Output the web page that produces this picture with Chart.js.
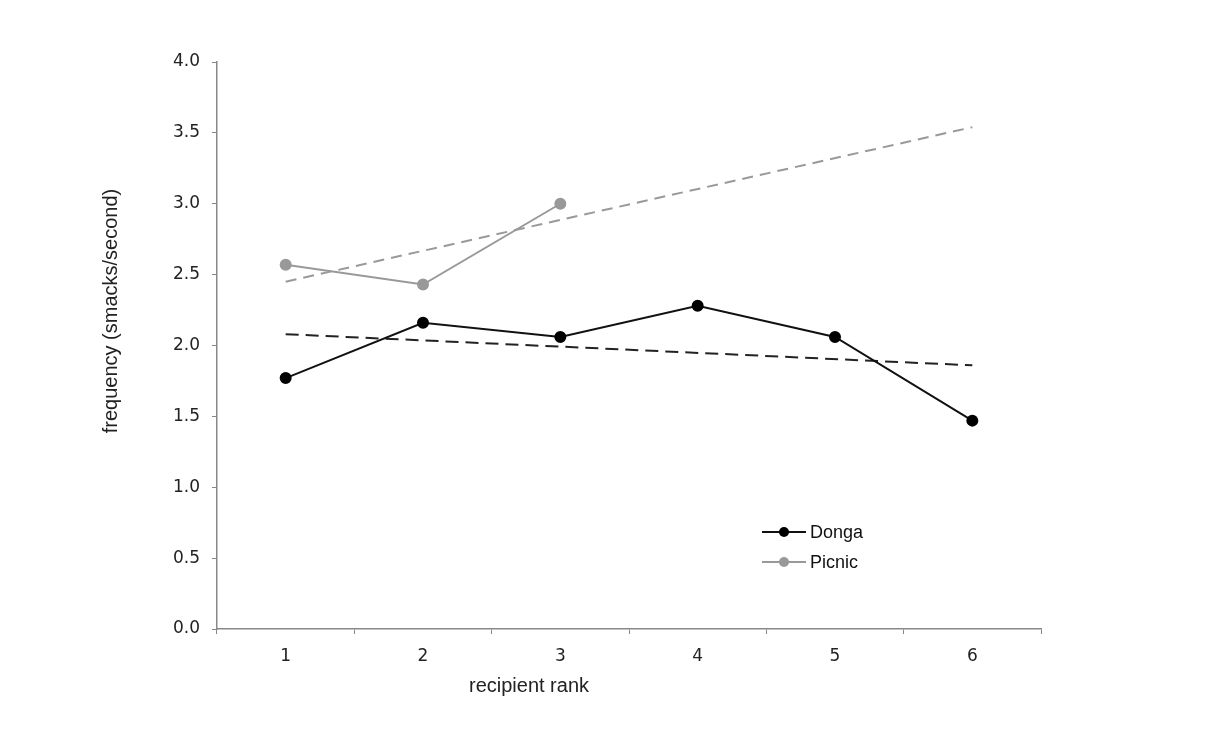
<!DOCTYPE html>
<html>
<head>
<meta charset="utf-8">
<script src="https://cdn.jsdelivr.net/npm/chart.js@4.4.0/dist/chart.umd.min.js"></script>
<style>
  html, body { margin: 0; padding: 0; background: #fff; }
  #wrap { width: 1213px; height: 740px; }
</style>
</head>
<body>
<div id="wrap"><canvas id="chart" width="1213" height="740"></canvas></div>
<script>
const ranks = ['1', '2', '3', '4', '5', '6'];
const donga = [1.77, 2.16, 2.06, 2.28, 2.06, 1.47];
const picnic = [2.57, 2.43, 3.0, null, null, null];
const dongaTrend = [2.08, null, null, null, null, 1.86];
const picnicTrend = [2.45, null, null, null, null, 3.54];
const yTicks = [0, 0.5, 1.0, 1.5, 2.0, 2.5, 3.0, 3.5, 4.0];

const ctx = document.getElementById('chart');

// legend drawn inside the plot area + axis titles
const overlay = {
  id: 'overlay',
  afterDraw(chart) {
    const c = chart.ctx;
    const area = chart.chartArea;
    c.save();
    c.fillStyle = '#222';
    c.font = '20px "Liberation Sans", Arial, sans-serif';
    c.textAlign = 'center';
    c.textBaseline = 'middle';
    c.fillText('recipient rank', 529, 686);
    c.translate(111, 311);
    c.rotate(-Math.PI / 2);
    c.fillText('frequency (smacks/second)', 0, 0);
    c.restore();

    const items = [chart.data.datasets[0], chart.data.datasets[1]];
    c.save();
    items.forEach((ds, i) => {
      const y = 532 + i * 30;
      c.strokeStyle = ds.borderColor;
      c.lineWidth = ds.borderWidth;
      c.beginPath();
      c.moveTo(762, y);
      c.lineTo(806, y);
      c.stroke();
      c.fillStyle = ds.pointBackgroundColor;
      c.beginPath();
      c.arc(784, y, 5, 0, Math.PI * 2);
      c.fill();
      c.fillStyle = '#111';
      c.font = '18px "Liberation Sans", Arial, sans-serif';
      c.textAlign = 'left';
      c.textBaseline = 'middle';
      c.fillText(ds.label, 810, y + 1);
    });
    c.restore();
  }
};

new Chart(ctx, {
  type: 'line',
  data: {
    labels: ranks,
    datasets: [
      {
        label: 'Donga',
        data: donga,
        borderColor: '#111',
        borderWidth: 2,
        pointBackgroundColor: '#000',
        pointBorderColor: '#000',
        pointRadius: 5,
        tension: 0,
      },
      {
        label: 'Picnic',
        data: picnic,
        borderColor: '#999',
        borderWidth: 2,
        pointBackgroundColor: '#999',
        pointBorderColor: '#999',
        pointRadius: 5,
        tension: 0,
      },
      {
        label: 'Donga trend',
        data: dongaTrend,
        borderColor: '#222',
        borderWidth: 2,
        borderDash: [13, 7],
        pointRadius: 0,
        spanGaps: true,
      },
      {
        label: 'Picnic trend',
        data: picnicTrend,
        borderColor: '#999',
        borderWidth: 2,
        borderDash: [11, 7],
        pointRadius: 0,
        spanGaps: true,
      },
    ],
  },
  options: {
    responsive: false,
    animation: false,
    layout: { padding: { left: 0, top: 62, right: 172, bottom: 0 } },
    plugins: {
      legend: { display: false },
      tooltip: { enabled: false },
    },
    scales: {
      x: {
        offset: true,
        border: { color: '#888', width: 1.5 },
        grid: { drawOnChartArea: false, color: '#888', tickLength: 5, offset: true },
        ticks: {
          color: '#222',
          padding: 12,
          font: { family: '"DejaVu Sans", Verdana, sans-serif', size: 17 },
        },
        afterFit(scale) { scale.height = 111; },
      },
      y: {
        min: 0,
        max: 4,
        border: { color: '#888', width: 1.5 },
        grid: { drawOnChartArea: false, color: '#888', tickLength: 5 },
        afterBuildTicks(scale) { scale.ticks = yTicks.map(v => ({ value: v })); },
        ticks: {
          color: '#222',
          padding: 12,
          font: { family: '"DejaVu Sans", Verdana, sans-serif', size: 17 },
          callback: v => v.toFixed(1),
        },
        afterFit(scale) { scale.width = 217; },
      },
    },
  },
  plugins: [overlay],
});
</script>
</body>
</html>
